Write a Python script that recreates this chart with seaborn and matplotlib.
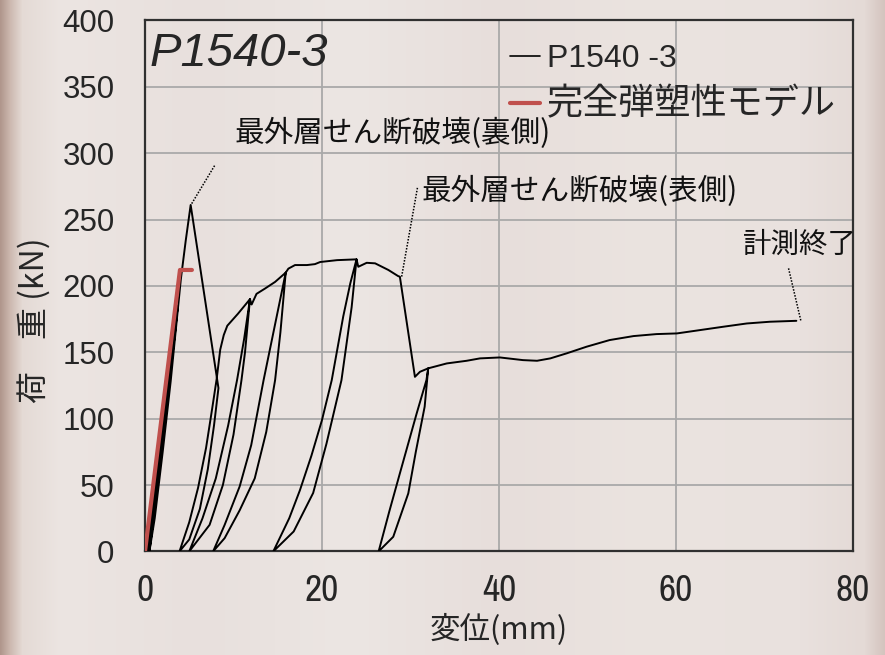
import numpy as np
import pandas as pd
import matplotlib
matplotlib.use("Agg")
import matplotlib.pyplot as plt
import seaborn as sns
from matplotlib import font_manager as fm

# ---------------- data ----------------
# initial loading with small cycles, peak and drop
init_x = [0, 0.5, 1.4, 2.3, 3.0, 2.5, 1.6, 0.9, 0.25, 0.9, 1.8, 2.7, 3.4, 3.7,
          3.1, 2.1, 1.2, 0.5, 1.1, 2.0, 2.9, 3.6, 4.05, 4.6, 5.16, 8.3]
init_y = [0, 15, 65, 115, 155, 125, 70, 30, 0, 25, 75, 125, 165, 185,
          150, 90, 38, 0, 25, 75, 128, 175, 205, 234, 261, 123]
# loop 1
l1_unload_x = [7.8, 7.1, 6.2, 5.0, 3.9]
l1_unload_y = [95, 62, 32, 9, 0]
l1_reload_x = [5.0, 6.0, 6.9, 7.6, 8.1, 8.5, 8.9, 9.3, 10.5, 11.86]
l1_reload_y = [22, 48, 78, 108, 130, 152, 163, 170, 179, 190]
# loop 2
l2_unload_x = [11.3, 10.9, 10.0, 8.8, 7.3, 5.0]
l2_unload_y = [150, 129, 88, 50, 20, 0]
l2_reload_x = [6.5, 8.0, 9.4, 10.4, 11.2, 11.86, 12.05, 12.6, 13.56, 14.7, 15.9]
l2_reload_y = [25, 55, 95, 129, 160, 190, 186, 194, 198, 203, 210]
# loop 3
l3_unload_x = [15.3, 14.7, 13.7, 12.4, 10.7, 9.0, 7.7]
l3_unload_y = [165, 129, 90, 55, 31, 10, 0]
l3_reload_x = [9.0, 10.7, 12.0, 13.4, 14.6, 15.9, 16.2, 16.95, 18.3, 19.2, 19.8, 21.7, 23.9]
l3_reload_y = [20, 49, 80, 129, 168, 210, 213, 215.7, 215.7, 216.4, 218, 219.4, 220]
# loop 4
l4_unload_x = [23.35, 22.2, 20.5, 19.0, 16.8, 14.5]
l4_unload_y = [184, 129, 81, 44, 15, 0]
l4_reload_x = [16.3, 17.5, 18.8, 20.0, 21.1, 22.4, 23.2, 23.9, 24.1, 25.05, 26.0, 27.5,
               28.6, 28.8, 30.5, 31.07, 32.0]
l4_reload_y = [25, 46, 72, 99, 129, 177, 202, 220, 214.4, 217.4, 217, 212,
               207.4, 206.9, 131.5, 135.3, 137.9]
# loop 5 and tail
l5_unload_x = [31.6, 30.6, 29.75, 28.05, 26.4]
l5_unload_y = [109, 75, 43.7, 11, 0]
l5_reload_x = [27.6, 28.8, 30.7, 31.8, 32.0]
l5_reload_y = [30, 58.8, 104, 129, 137.9]
tail_x = [34.1, 36.35, 37.85, 40.1, 42.7, 44.3, 45.8, 47.65, 49.9, 52.5, 55.2,
          57.8, 60.1, 62.7, 65.3, 68.0, 70.6, 73.6]
tail_y = [141.6, 143.6, 145.4, 146.1, 144.1, 143.6, 145.4, 149.2, 154.2, 159.2,
          162.2, 163.7, 164.2, 166.7, 169.2, 171.7, 173.0, 173.7]

# perfect elasto-plastic model
model_x = [0, 3.95, 5.3]
model_y = [0, 212, 212]

# annotations (text anchor and leader line ends)
ann_texts = ["最外層せん断破壊(裏側)", "最外層せん断破壊(表側)", "計測終了"]
ann_text_x = [10.1, 31.3, 67.6]
ann_text_y = [315, 271, 231]
ann_sizes = [21.3, 21.3, 20.5]
ann_line_x = [[5.28, 7.9], [29.0, 30.8], [74.1, 72.7]]
ann_line_y = [[262, 291], [207, 274.5], [174, 213.7]]

series_names = ["P1540 -3", "完全弾塑性モデル"]
title_text = "P1540-3"
x_ticks = [0, 20, 40, 60, 80]
y_ticks = [0, 50, 100, 150, 200, 250, 300, 350, 400]
x_label = "変位(mm)"
y_label = "荷\u3000重 (kN)"

# ---------------- build data frames ----------------
test_x = (init_x + l1_unload_x + l1_reload_x + l2_unload_x + l2_reload_x +
          l3_unload_x + l3_reload_x + l4_unload_x + l4_reload_x +
          l5_unload_x + l5_reload_x + tail_x)
test_y = (init_y + l1_unload_y + l1_reload_y + l2_unload_y + l2_reload_y +
          l3_unload_y + l3_reload_y + l4_unload_y + l4_reload_y +
          l5_unload_y + l5_reload_y + tail_y)
df_test = pd.DataFrame({"x": test_x, "y": test_y})
df_model = pd.DataFrame({"x": model_x, "y": model_y})

# ---------------- style ----------------
sns.set_style("white")


def has_font(name):
    try:
        fm.findfont(fm.FontProperties(family=name), fallback_to_default=False)
        return True
    except Exception:
        return False


SANS = "Liberation Sans" if has_font("Liberation Sans") else "DejaVu Sans"
NARROW = SANS
NARROW_W = "normal"
cands = [fe for fe in fm.fontManager.ttflist
         if ("Narrow" in fe.name or "Condensed" in fe.name) and fe.style == "normal"]
if cands:
    regular = [fe for fe in cands if fe.weight in (400, "normal", "regular", "book")]
    pick = regular[0] if regular else cands[0]
    NARROW = pick.name
    NARROW_W = pick.weight
CJK = "Noto Sans CJK JP"
plt.rcParams["font.family"] = [CJK, "DejaVu Sans"]

W, H = 885, 655
fig = plt.figure(figsize=(W / 100, H / 100), dpi=100)

# background (wood-like tone)
bg = fig.add_axes([0, 0, 1, 1], zorder=-10)
cols = np.array([
    [176, 150, 140], [205, 185, 176], [228, 218, 213], [236, 229, 226],
    [232, 224, 221], [236, 230, 227], [231, 222, 219], [235, 228, 224],
    [233, 225, 222], [228, 218, 214], [212, 196, 190]], dtype=float) / 255
pos = np.array([0, 10, 22, 60, 200, 350, 500, 650, 800, 865, 885]) / 885
xs = np.linspace(0, 1, 885)
grad = np.stack([np.interp(xs, pos, cols[:, i]) for i in range(3)], axis=-1)
bg.imshow(grad[np.newaxis, :, :], aspect="auto", extent=[0, 1, 0, 1])
bg.set_axis_off()

ax = fig.add_axes([145 / W, 1 - 551.4 / H, 708 / W, 531 / H])
ax.set_facecolor("none")

sns.lineplot(data=df_test, x="x", y="y", sort=False, estimator=None,
             color="black", lw=1.4, ax=ax, label=series_names[0], zorder=3)
sns.lineplot(data=df_model, x="x", y="y", sort=False, estimator=None,
             color="#c0504d", lw=3, ax=ax, label=series_names[1], zorder=4)

ax.set_xlim(0, 80)
ax.set_ylim(0, 400)
ax.set_xticks(x_ticks)
ax.set_yticks(y_ticks)
ax.grid(True, color="#a9a9a9", lw=1.3, zorder=0)
ax.set_axisbelow(True)
for s in ax.spines.values():
    s.set_color("#303030")
    s.set_linewidth(1.6)
ax.tick_params(axis="both", direction="in", length=7, width=1.4, color="#303030")
ax.tick_params(axis="y", pad=22)
ax.tick_params(axis="x", pad=16)
for t in ax.get_yticklabels():
    t.set_fontfamily(SANS)
    t.set_fontsize(22.5)
for t in ax.get_xticklabels():
    t.set_fontfamily(NARROW)
    t.set_fontweight(NARROW_W)
    t.set_fontsize(27)

ax.set_xlabel(x_label, fontsize=22, family=[CJK], labelpad=5)
ax.set_ylabel("")
fig.text(35 / W, 1 - 320 / H, y_label, rotation=90, fontsize=23,
         family=[CJK], ha="center", va="center")

# title inside the plot
ax.text(0.006, 0.936, title_text, transform=ax.transAxes, fontsize=34,
        family=SANS, style="italic", ha="left", va="center")

# annotations with dotted leader lines
for t, tx, ty, fs, lx, ly in zip(ann_texts, ann_text_x, ann_text_y, ann_sizes,
                                 ann_line_x, ann_line_y):
    ax.plot(lx, ly, color="black", lw=1.1, ls=(0, (1, 1)), zorder=5)
    ax.text(tx, ty, t, fontsize=fs, family=[CJK], ha="left", va="center",
            color="#111111")

# legend
h, l = ax.get_legend_handles_labels()
leg = ax.legend(h, l, loc="upper left", bbox_to_anchor=(0.5155, 0.955),
                frameon=False, handlelength=0.95, handletextpad=0.2,
                borderpad=0, borderaxespad=0, labelspacing=0.38,
                prop={"family": SANS, "size": 23})
txts = leg.get_texts()
txts[1].set_fontfamily(CJK)
txts[1].set_fontsize(26)
leg.legend_handles[0].set_linewidth(1.2)
leg.legend_handles[1].set_linewidth(3)

fig.savefig("out.png", dpi=100)
